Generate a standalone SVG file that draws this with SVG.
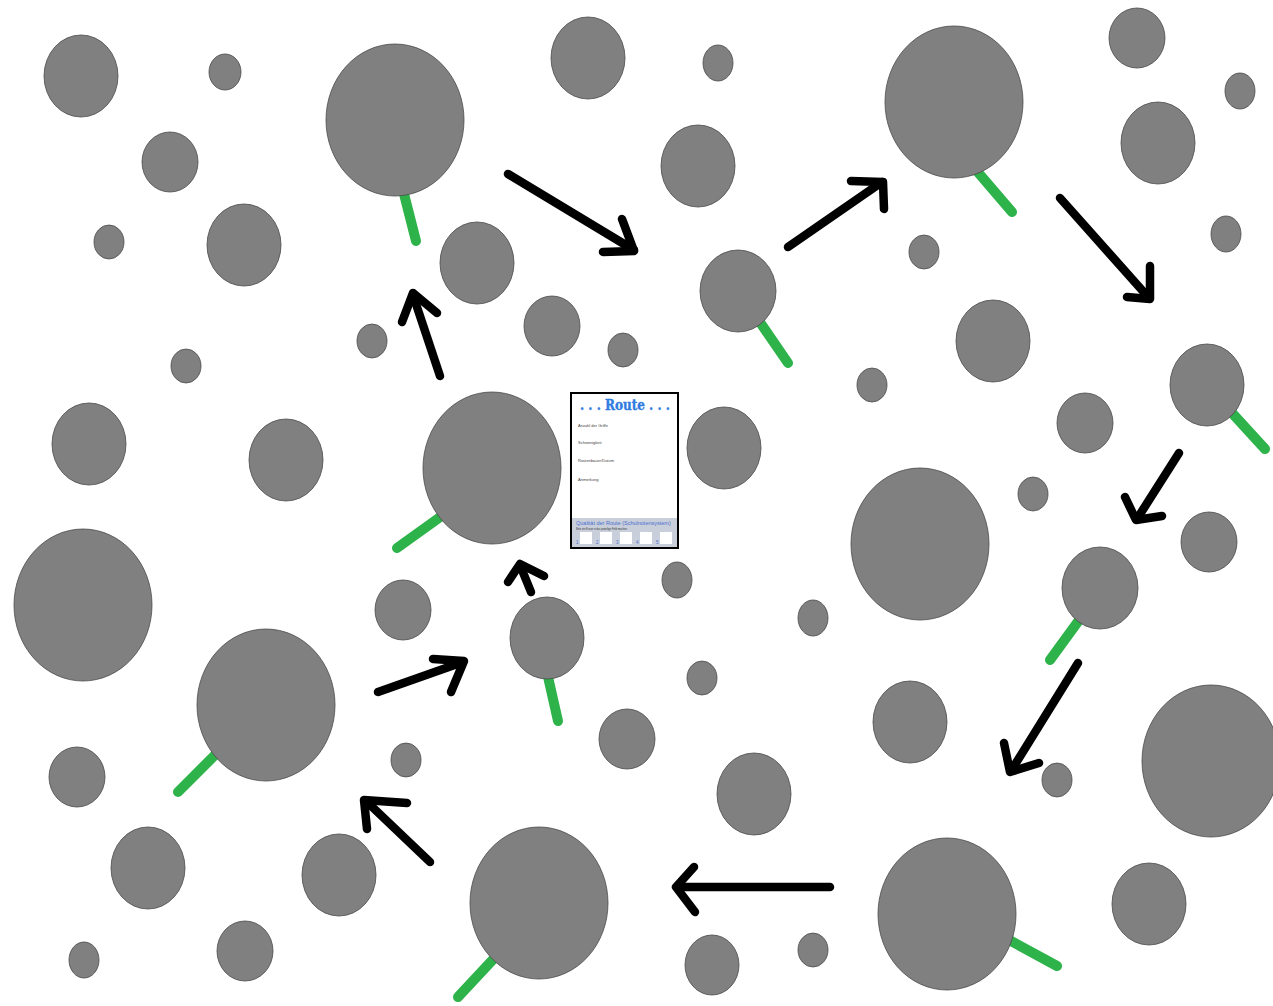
<svg xmlns="http://www.w3.org/2000/svg" width="1273" height="1006" viewBox="0 0 1273 1006">
<style>
.h{fill:#808080;stroke:#4a4a4a;stroke-width:0.8}
.s{stroke:#2db34a;stroke-width:10;stroke-linecap:round;fill:none}
.a{stroke:#000;stroke-width:8.5;stroke-linecap:round;stroke-linejoin:round;fill:none}
.t{font-family:"Liberation Sans",Arial,sans-serif;font-size:4px;fill:#444}
</style>
<rect width="1273" height="1006" fill="#fff"/>
<g id="holds">
<g id="h1"><ellipse class="h" cx="81" cy="76" rx="37" ry="41"/></g>
<g id="h2"><ellipse class="h" cx="225" cy="72" rx="16" ry="18"/></g>
<g id="h3"><ellipse class="h" cx="170" cy="162" rx="28" ry="30"/></g>
<g id="h4"><ellipse class="h" cx="109" cy="242" rx="15" ry="17"/></g>
<g id="h5"><ellipse class="h" cx="244" cy="245" rx="37" ry="41"/></g>
<g id="h6"><line class="s" x1="403" y1="190" x2="416" y2="241"/><ellipse class="h" cx="395" cy="120" rx="69" ry="76"/></g>
<g id="h7"><ellipse class="h" cx="477" cy="263" rx="37" ry="41"/></g>
<g id="h8"><ellipse class="h" cx="372" cy="341" rx="15" ry="17"/></g>
<g id="h9"><ellipse class="h" cx="552" cy="326" rx="28" ry="30"/></g>
<g id="h10"><ellipse class="h" cx="623" cy="350" rx="15" ry="17"/></g>
<g id="h11"><ellipse class="h" cx="588" cy="58" rx="37" ry="41"/></g>
<g id="h12"><ellipse class="h" cx="718" cy="63" rx="15" ry="18"/></g>
<g id="h13"><ellipse class="h" cx="698" cy="166" rx="37" ry="41"/></g>
<g id="h14"><line class="s" x1="755" y1="315" x2="788" y2="363"/><ellipse class="h" cx="738" cy="291" rx="38" ry="41"/></g>
<g id="h15"><line class="s" x1="970" y1="163" x2="1012" y2="212"/><ellipse class="h" cx="954" cy="102" rx="69" ry="76"/></g>
<g id="h16"><ellipse class="h" cx="1137" cy="38" rx="28" ry="30"/></g>
<g id="h17"><ellipse class="h" cx="1240" cy="91" rx="15" ry="18"/></g>
<g id="h18"><ellipse class="h" cx="1158" cy="143" rx="37" ry="41"/></g>
<g id="h19"><ellipse class="h" cx="924" cy="252" rx="15" ry="17"/></g>
<g id="h20"><ellipse class="h" cx="1226" cy="234" rx="15" ry="18"/></g>
<g id="h21"><ellipse class="h" cx="993" cy="341" rx="37" ry="41"/></g>
<g id="h22"><ellipse class="h" cx="872" cy="385" rx="15" ry="17"/></g>
<g id="h23"><line class="s" x1="1222" y1="402" x2="1265" y2="449"/><ellipse class="h" cx="1207" cy="385" rx="37" ry="41"/></g>
<g id="h24"><ellipse class="h" cx="1085" cy="423" rx="28" ry="30"/></g>
<g id="h25"><ellipse class="h" cx="1033" cy="494" rx="15" ry="17"/></g>
<g id="h26"><ellipse class="h" cx="1209" cy="542" rx="28" ry="30"/></g>
<g id="h27"><ellipse class="h" cx="920" cy="544" rx="69" ry="76"/></g>
<g id="h28"><line class="s" x1="1085" y1="612" x2="1050" y2="660"/><ellipse class="h" cx="1100" cy="588" rx="38" ry="41"/></g>
<g id="h29"><ellipse class="h" cx="186" cy="366" rx="15" ry="17"/></g>
<g id="h30"><ellipse class="h" cx="89" cy="444" rx="37" ry="41"/></g>
<g id="h31"><ellipse class="h" cx="286" cy="460" rx="37" ry="41"/></g>
<g id="h32"><line class="s" x1="450" y1="510" x2="397" y2="548"/><ellipse class="h" cx="492" cy="468" rx="69" ry="76"/></g>
<g id="h33"><ellipse class="h" cx="724" cy="448" rx="37" ry="41"/></g>
<g id="h34"><ellipse class="h" cx="83" cy="605" rx="69" ry="76"/></g>
<g id="h35"><ellipse class="h" cx="403" cy="610" rx="28" ry="30"/></g>
<g id="h36"><line class="s" x1="546" y1="668" x2="558" y2="721"/><ellipse class="h" cx="547" cy="638" rx="37" ry="41"/></g>
<g id="h37"><ellipse class="h" cx="677" cy="580" rx="15" ry="18"/></g>
<g id="h38"><ellipse class="h" cx="813" cy="618" rx="15" ry="18"/></g>
<g id="h39"><ellipse class="h" cx="702" cy="678" rx="15" ry="17"/></g>
<g id="h40"><line class="s" x1="222" y1="748" x2="178" y2="792"/><ellipse class="h" cx="266" cy="705" rx="69" ry="76"/></g>
<g id="h41"><ellipse class="h" cx="77" cy="777" rx="28" ry="30"/></g>
<g id="h42"><ellipse class="h" cx="406" cy="760" rx="15" ry="17"/></g>
<g id="h43"><ellipse class="h" cx="627" cy="739" rx="28" ry="30"/></g>
<g id="h44"><ellipse class="h" cx="754" cy="794" rx="37" ry="41"/></g>
<g id="h45"><ellipse class="h" cx="910" cy="722" rx="37" ry="41"/></g>
<g id="h46"><ellipse class="h" cx="1057" cy="780" rx="15" ry="17"/></g>
<g id="h47"><ellipse class="h" cx="1211" cy="761" rx="69" ry="76"/></g>
<g id="h48"><ellipse class="h" cx="148" cy="868" rx="37" ry="41"/></g>
<g id="h49"><ellipse class="h" cx="339" cy="875" rx="37" ry="41"/></g>
<g id="h50"><line class="s" x1="500" y1="952" x2="458" y2="997"/><ellipse class="h" cx="539" cy="903" rx="69" ry="76"/></g>
<g id="h51"><line class="s" x1="1000" y1="935" x2="1057" y2="966"/><ellipse class="h" cx="947" cy="914" rx="69" ry="76"/></g>
<g id="h52"><ellipse class="h" cx="84" cy="960" rx="15" ry="18"/></g>
<g id="h53"><ellipse class="h" cx="245" cy="951" rx="28" ry="30"/></g>
<g id="h54"><ellipse class="h" cx="712" cy="965" rx="27" ry="30"/></g>
<g id="h55"><ellipse class="h" cx="813" cy="950" rx="15" ry="17"/></g>
<g id="h56"><ellipse class="h" cx="1149" cy="904" rx="37" ry="41"/></g>
</g>
<g id="card">
<rect x="571" y="393" width="107" height="155" fill="#fff" stroke="#000" stroke-width="2"/>
<rect x="572" y="518" width="105" height="29" fill="#c9cedb"/>
<text x="625" y="410" text-anchor="middle" textLength="90" lengthAdjust="spacingAndGlyphs" font-family="'DejaVu Serif',serif" font-weight="bold" font-size="14" fill="#2f7de1" stroke="#2f7de1" stroke-width="0.4">. . . Route . . .</text>
<text class="t" x="578" y="427">Anzahl der Griffe</text>
<text class="t" x="578" y="444">Schwierigkeit</text>
<text class="t" x="578" y="462">Routenbauer/Datum</text>
<text class="t" x="578" y="481">Anmerkung</text>
<text x="576" y="525" font-family="'Liberation Sans',Arial,sans-serif" font-size="5.5" fill="#4a6fd0">Qualität der Route (Schulnotensystem)</text>
<text x="576" y="530" font-family="'Liberation Sans',Arial,sans-serif" font-size="2.6" fill="#333">Bitte ein Kreuz in das jeweilige Feld machen</text>
<g font-family="'Liberation Sans',Arial,sans-serif" font-size="4.5" fill="#4a6fd0">
<rect x="580" y="532" width="12" height="12" fill="#fff"/><text x="576" y="544">1</text>
<rect x="600" y="532" width="12" height="12" fill="#fff"/><text x="596" y="544">2</text>
<rect x="620" y="532" width="12" height="12" fill="#fff"/><text x="616" y="544">3</text>
<rect x="640" y="532" width="12" height="12" fill="#fff"/><text x="636" y="544">4</text>
<rect x="660" y="532" width="12" height="12" fill="#fff"/><text x="656" y="544">5</text>
</g>
</g>
<g id="arrows">
<line class="a" x1="508" y1="174" x2="634" y2="250"/><polyline class="a" points="622,219 634,251 603,252"/>
<line class="a" x1="788" y1="247" x2="882" y2="182"/><polyline class="a" points="851,181 883,182 884,209"/>
<line class="a" x1="1060" y1="198" x2="1149" y2="298"/><polyline class="a" points="1127,297 1150,299 1150,266"/>
<line class="a" x1="1179" y1="453" x2="1137" y2="519"/><polyline class="a" points="1125,497 1136,520 1162,516"/>
<line class="a" x1="1078" y1="663" x2="1011" y2="771"/><polyline class="a" points="1004,743 1010,772 1039,763"/>
<line class="a" x1="830" y1="887" x2="677" y2="887"/><polyline class="a" points="694,867 676,887 695,912"/>
<line class="a" x1="430" y1="862" x2="366" y2="801"/><polyline class="a" points="367,829 364,800 407,803"/>
<line class="a" x1="378" y1="692" x2="463" y2="662"/><polyline class="a" points="433,659 464,661 451,692"/>
<line class="a" x1="531" y1="592" x2="520" y2="565"/><polyline class="a" points="508,582 520,564 544,576"/>
<line class="a" x1="440" y1="376" x2="413" y2="295"/><polyline class="a" points="402,322 413,293 437,313"/>
</g>
</svg>
